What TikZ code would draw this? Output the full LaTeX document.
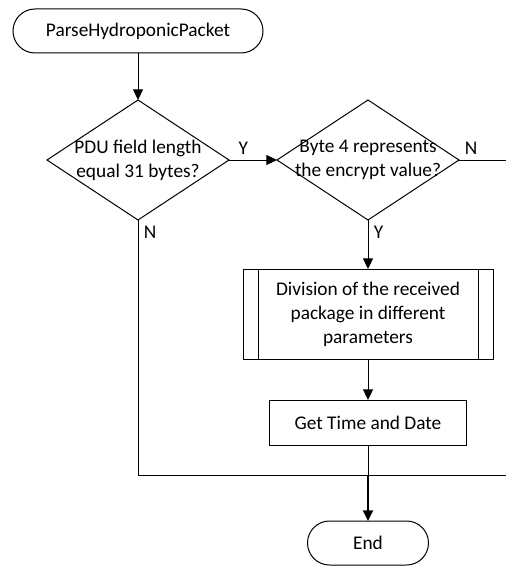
\documentclass[tikz,border=0pt]{standalone}
\usepackage{fontspec}
\setmainfont{Carlito}
\usetikzlibrary{positioning,shapes.geometric,arrows.meta}

\begin{document}
\begin{tikzpicture}[
		x=0.75pt, y=-0.75pt,
		font=\fontsize{14.5pt}{18pt}\selectfont,
		terminal/.style={rectangle, rounded corners=16.5pt, draw=black, line width=0.75pt, minimum width=187.5pt, minimum height=33pt, inner sep=0pt, outer sep=0pt},
		decision/.style={diamond, draw=black, line width=0.75pt, minimum width=136.5pt, minimum height=90pt, inner xsep=-20pt, inner ysep=-8pt, outer sep=0pt, align=center},
		subprocess/.style={rectangle, draw=black, line width=0.75pt, minimum width=187.5pt, minimum height=67.5pt, outer sep=0pt, align=center,
			path picture={
				\draw[line width=0.75pt] ([xshift=11.25pt]path picture bounding box.north west) -- ([xshift=11.25pt]path picture bounding box.south west);
				\draw[line width=0.75pt] ([xshift=-11.25pt]path picture bounding box.north east) -- ([xshift=-11.25pt]path picture bounding box.south east);}},
		process/.style={rectangle, draw=black, line width=0.75pt, minimum width=147.75pt, minimum height=33.75pt, outer sep=0pt},
		line/.style={draw=black, line width=0.75pt},
		arrow/.style={line, -{Triangle[length=8pt,width=7.5pt]}},
		answer/.style={inner sep=4pt},
		]
		\useasboundingbox (0,0) rectangle (506,567);
		\clip (0,0) rectangle (506,567);

		%Main Nodes
		\node[terminal]		(start)		at (138,31)						{ParseHydroponicPacket};
		\node[decision]		(pdu)		[below=35.25pt of start]		{PDU field length\\equal 31 bytes?};
		\node[decision]		(byte)		[right=36pt of pdu]				{Byte 4 represents\\the encrypt value?};
		\node[subprocess]	(division)	[below=36.75pt of byte]			{Division of the received\\package in different\\parameters};
		\node[process]		(datetime)	[below=30.75pt of division]		{Get Time and Date};
		\coordinate[below=22.5pt of datetime]	(merge);
		\node[terminal, minimum width=90.75pt]	(end)	[below=57pt of datetime]	{End};

		%Main Lines
		\draw[arrow]	(start)		--	(pdu);
		\draw[arrow]	(pdu)		--	node[answer, above, pos=0.3] {Y}	(byte);
		\draw[arrow]	(byte)		--	node[answer, anchor=north west, pos=0] {Y}	(division);
		\draw[arrow]	(division)	--	(datetime);
		\draw[line]		(datetime)	--	(merge);
		\draw[arrow, line width=1.5pt]	(merge)	--	(end);

		%No Branches
		\draw[line]	(pdu.south)	|-	node[answer, anchor=north west, pos=0] {N}	(merge);
		\draw[line]	(byte.east)	--	node[answer, anchor=south west, pos=0] {N}	++(40pt,0)	|-	(merge);

	\end{tikzpicture}
\end{document}
